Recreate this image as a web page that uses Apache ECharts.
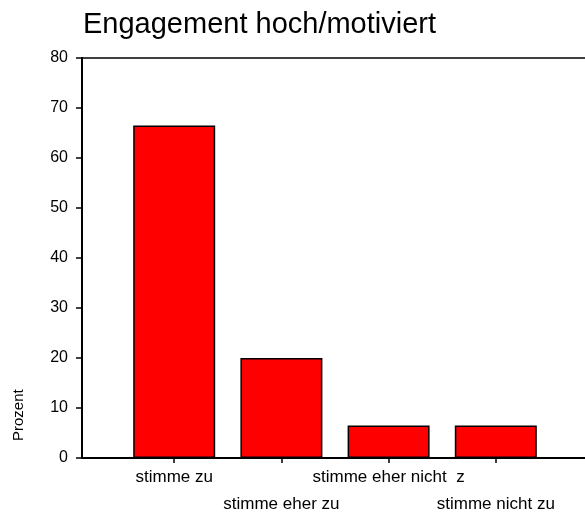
<!DOCTYPE html>
<html lang="de">
<head>
    <meta charset="UTF-8">
    <title>Engagement hoch/motiviert</title>
    <script src="https://cdnjs.cloudflare.com/ajax/libs/echarts/6.0.0/echarts.min.js"></script>
    <style>
        html, body { margin: 0; padding: 0; background: #fff; }
    </style>
</head>
<body>
    <div id="chart" style="width: 585px; height: 518px;"></div>

    <script>
        // Kategorien und Prozentwerte
        const categories = ['stimme zu', 'stimme eher zu', 'stimme eher nicht  z', 'stimme nicht zu'];
        const categoryPositions = [1, 2, 3, 4];
        const upperRow = [1, 3];   // Beschriftung obere Zeile
        const lowerRow = [2, 4];   // Beschriftung untere Zeile
        const percentValues = [66.5, 20, 6.5, 6.5];
        const yTicks = [0, 10, 20, 30, 40, 50, 60, 70, 80];

        const font = 'Liberation Sans, Arial, sans-serif';
        const xMin = 0.14, xMax = 4.832;

        const chart = echarts.init(document.getElementById('chart'));

        function labelStyle(values, margin) {
            return {
                customValues: values,
                hideOverlap: false,
                showMinLabel: true,
                showMaxLabel: true,
                margin: margin,
                color: '#000',
                fontFamily: font,
                fontSize: 17,
                formatter: function (v) { return categories[Math.round(v) - 1]; }
            };
        }

        const options = {
            animation: false,
            title: {
                text: 'Engagement hoch/motiviert',
                left: 78,
                top: 5,
                textStyle: { fontFamily: font, fontSize: 29, fontWeight: 'normal', color: '#000' }
            },
            grid: { left: 82, right: 0, top: 58, bottom: 60, outerBoundsMode: 'none' },
            xAxis: [{
                type: 'value',
                position: 'bottom',
                min: xMin,
                max: xMax,
                splitLine: { show: false },
                axisLine: { lineStyle: { color: '#000', width: 2 } },
                axisTick: {
                    customValues: categoryPositions,
                    length: 5,
                    lineStyle: { color: '#000', width: 1.5 }
                },
                axisLabel: labelStyle(upperRow, 11)
            }, {
                type: 'value',
                position: 'bottom',
                offset: 0,
                min: xMin,
                max: xMax,
                splitLine: { show: false },
                axisLine: { show: false },
                axisTick: { show: false },
                axisLabel: labelStyle(lowerRow, 38)
            }, {
                type: 'value',
                position: 'top',
                min: xMin,
                max: xMax,
                splitLine: { show: false },
                axisTick: { show: false },
                axisLabel: { show: false },
                axisLine: { lineStyle: { color: '#000', width: 1.5 } }
            }],
            yAxis: {
                type: 'value',
                min: 0,
                max: 80,
                interval: 10,
                splitLine: { show: false },
                axisLine: { show: true, lineStyle: { color: '#000', width: 2 } },
                axisTick: { show: true, length: 6, lineStyle: { color: '#000', width: 1.5 } },
                axisLabel: {
                    margin: 14,
                    color: '#000',
                    fontFamily: font,
                    fontSize: 16,
                    formatter: function (v) { return yTicks.indexOf(v) >= 0 ? String(v) : ''; }
                }
            },
            graphic: [{
                type: 'text',
                x: 11,
                y: 441,
                rotation: Math.PI / 2,
                style: {
                    text: 'Prozent',
                    fontFamily: font,
                    fontSize: 15,
                    fill: '#000',
                    textVerticalAlign: 'top'
                }
            }],
            series: [{
                type: 'bar',
                xAxisIndex: 0,
                barWidth: 82,
                data: categoryPositions.map((p, i) => [p, percentValues[i]]),
                itemStyle: { color: '#ff0000', borderColor: '#000', borderWidth: 1.5 }
            }]
        };

        chart.setOption(options);
    </script>
</body>
</html>
